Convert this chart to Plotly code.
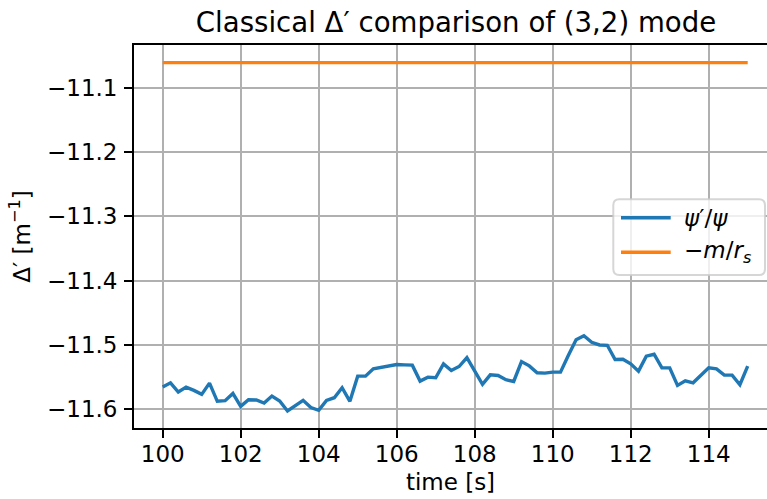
import plotly.graph_objects as go

# ---------------- data ----------------
time_s = [100.0, 100.2, 100.4, 100.6, 100.8, 101.0, 101.2, 101.4, 101.6, 101.8,
          102.0, 102.2, 102.4, 102.6, 102.8, 103.0, 103.2, 103.4, 103.6, 103.8,
          104.0, 104.2, 104.4, 104.6, 104.8, 105.0, 105.2, 105.4, 105.6, 105.8,
          106.0, 106.2, 106.4, 106.6, 106.8, 107.0, 107.2, 107.4, 107.6, 107.8,
          108.0, 108.2, 108.4, 108.6, 108.8, 109.0, 109.2, 109.4, 109.6, 109.8,
          110.0, 110.2, 110.4, 110.6, 110.8, 111.0, 111.2, 111.4, 111.6, 111.8,
          112.0, 112.2, 112.4, 112.6, 112.8, 113.0, 113.2, 113.4, 113.6, 113.8,
          114.0, 114.2, 114.4, 114.6, 114.8, 115.0]

psi_ratio = [-11.5655, -11.5588, -11.5732, -11.5655, -11.5706, -11.5768, -11.5593, -11.5876, -11.5866, -11.5753,
             -11.5954, -11.5851, -11.5856, -11.5902, -11.5794, -11.5871, -11.6026, -11.5943, -11.5861, -11.5974,
             -11.6015, -11.5861, -11.5820, -11.5665, -11.5876, -11.5485, -11.5485, -11.5371, -11.5345, -11.5330,
             -11.5304, -11.5309, -11.5314, -11.5562, -11.5500, -11.5510, -11.5294, -11.5397, -11.5335, -11.5196,
             -11.5397, -11.5613, -11.5464, -11.5474, -11.5541, -11.5567, -11.5258, -11.5325, -11.5433, -11.5438,
             -11.5423, -11.5423, -11.5165, -11.4918, -11.4856, -11.4959, -11.5000, -11.5005, -11.5227, -11.5222,
             -11.5294, -11.5407, -11.5175, -11.5144, -11.5356, -11.5356, -11.5629, -11.5557, -11.5588, -11.5474,
             -11.5356, -11.5371, -11.5469, -11.5469, -11.5619, -11.5330]

m_over_rs_time = [100.0, 115.0]
m_over_rs = [-11.061, -11.061]

x_ticks = [100, 102, 104, 106, 108, 110, 112, 114]
y_ticks = [-11.6, -11.5, -11.4, -11.3, -11.2, -11.1]

series_names = ["<i>ψ</i>′/<i>ψ</i>", "−<i>m</i>/<i>r</i><sub><i>s</i></sub>"]
series_colors = ["#1f77b4", "#ff7f0e"]

# ---------------- layout geometry ----------------
W, H = 767, 499
L, R, T, B = 134, 0, 45, 71
PW = W - L - R
PH = H - T - B
FONT = "DejaVu Sans"
FS = 23
LW = 3.4
GW = 1.8


def px_x(p):
    return (p - L) / PW


def px_y(p):
    return (H - B - p) / PH


fig = go.Figure()
fig.add_trace(go.Scatter(x=time_s, y=psi_ratio, mode="lines", name=series_names[0],
                         line=dict(color=series_colors[0], width=LW), showlegend=False))
fig.add_trace(go.Scatter(x=m_over_rs_time, y=m_over_rs, mode="lines", name=series_names[1],
                         line=dict(color=series_colors[1], width=LW), showlegend=False))

axis_common = dict(
    showgrid=True, gridcolor="#b0b0b0", gridwidth=GW,
    showline=True, linecolor="black", linewidth=GW,
    ticks="outside", ticklen=8, tickwidth=GW, tickcolor="black",
    tickfont=dict(family=FONT, size=FS, color="black"),
    zeroline=False,
)

fig.update_xaxes(range=[99.264, 115.495], tickvals=x_ticks, ticktext=[str(v) for v in x_ticks],
                 mirror=True, ticklabelstandoff=-4,
                 title=dict(text="time [s]", font=dict(family=FONT, size=FS, color="black"),
                            standoff=8),
                 **axis_common)
fig.update_yaxes(range=[-11.6291, -11.0336], tickvals=y_ticks, ticktext=[f"−{abs(v):.1f}" for v in y_ticks],
                 ticklabelstandoff=2,
                 title=dict(text="Δ′ [m<sup>−1</sup>]", font=dict(family=FONT, size=FS, color="black"),
                            standoff=10),
                 **axis_common)

# legend (drawn manually to match layout)
bx0, bx1, by0, by1 = 613.3, 765.0, 199.3, 275.0
rx, ry = 6 / PW, 6 / PH
x0, x1, y0, y1 = px_x(bx0), px_x(bx1), px_y(by1), px_y(by0)
path = (f"M {x0+rx},{y0} L {x1-rx},{y0} Q {x1},{y0} {x1},{y0+ry} L {x1},{y1-ry} "
        f"Q {x1},{y1} {x1-rx},{y1} L {x0+rx},{y1} Q {x0},{y1} {x0},{y1-ry} "
        f"L {x0},{y0+ry} Q {x0},{y0} {x0+rx},{y0} Z")
fig.add_shape(type="path", path=path, xref="paper", yref="paper",
              fillcolor="rgba(255,255,255,0.8)", line=dict(color="rgba(204,204,204,0.8)", width=2),
              layer="above")
rows = [217.7, 252.3]
for name, color, ry_px in zip(series_names, series_colors, rows):
    fig.add_shape(type="line", xref="paper", yref="paper",
                  x0=px_x(621), x1=px_x(670.7), y0=px_y(ry_px), y1=px_y(ry_px),
                  line=dict(color=color, width=LW), layer="above")
    fig.add_annotation(x=px_x(682), y=px_y(ry_px), xref="paper", yref="paper", text=name,
                       showarrow=False, xanchor="left", yanchor="middle",
                       font=dict(family=FONT, size=FS, color="black"))

fig.update_layout(
    width=W, height=H,
    margin=dict(l=L, r=R, t=T, b=B, pad=0),
    paper_bgcolor="white", plot_bgcolor="white",
    title=dict(text="Classical Δ′ comparison of (3,2) mode",
               font=dict(family=FONT, size=27.6, color="black"),
               x=456 / W, xref="container", xanchor="center",
               y=1 - 22 / H, yref="container", yanchor="middle"),
    showlegend=False,
)

fig.write_html("out.html")
